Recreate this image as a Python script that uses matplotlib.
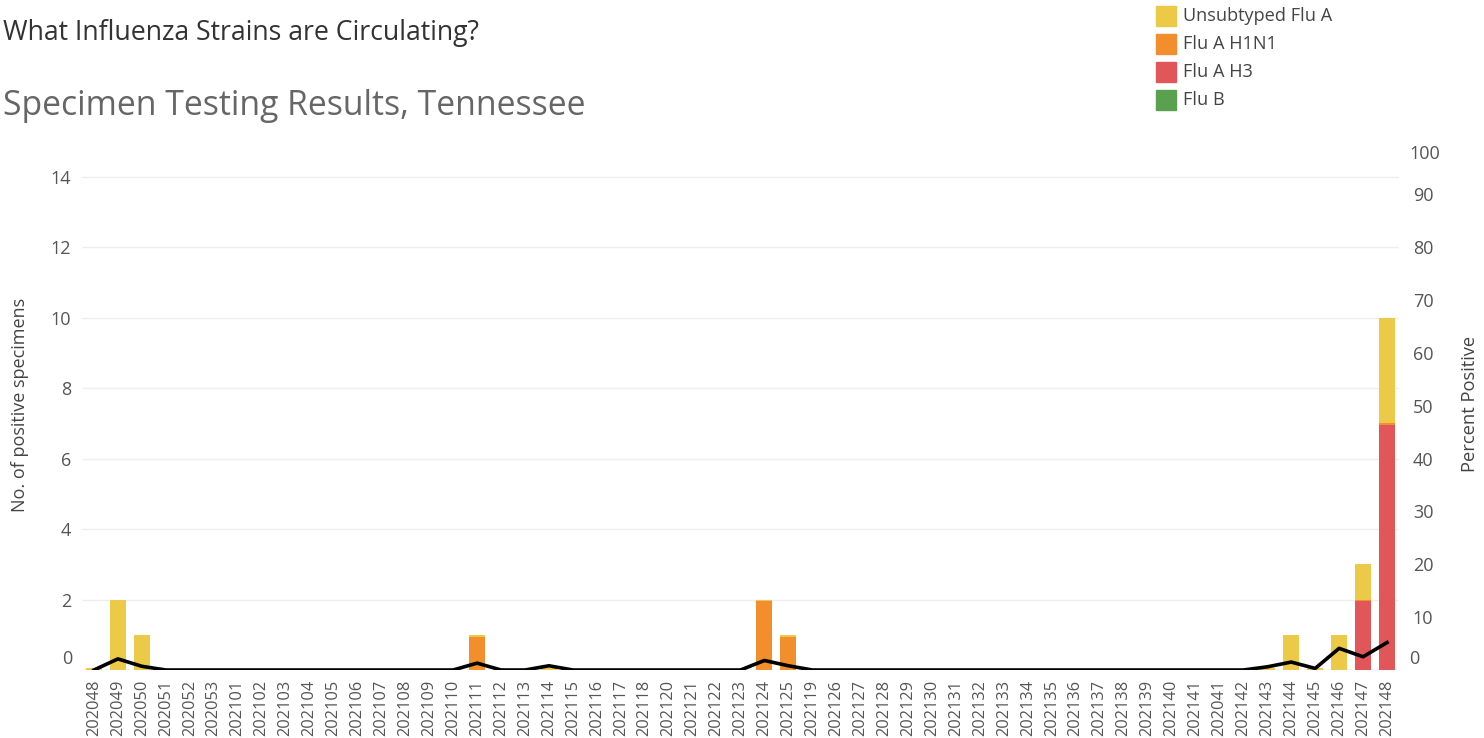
import matplotlib
matplotlib.use("Agg")
import matplotlib.pyplot as plt
import numpy as np

plt.rcParams['font.family'] = ['Open Sans', 'DejaVu Sans']

weeks = ["202048", "202049", "202050", "202051", "202052", "202053",
         "202101", "202102", "202103", "202104", "202105", "202106", "202107",
         "202108", "202109", "202110", "202111", "202112", "202113", "202114",
         "202115", "202116", "202117", "202118", "202120", "202121", "202122",
         "202123", "202124", "202125", "202119", "202126", "202127", "202128",
         "202129", "202130", "202131", "202132", "202133", "202134", "202135",
         "202136", "202137", "202138", "202139", "202140", "202141", "202041",
         "202142", "202143", "202144", "202145", "202146", "202147", "202148"]

flu_b = [0] * 55

flu_a_h3 = [0, 0, 0, 0, 0, 0,
            0, 0, 0, 0, 0, 0, 0,
            0, 0, 0, 0, 0, 0, 0,
            0, 0, 0, 0, 0, 0, 0,
            0, 0, 0, 0, 0, 0, 0,
            0, 0, 0, 0, 0, 0, 0,
            0, 0, 0, 0, 0, 0, 0,
            0, 0, 0, 0, 0, 1.95, 6.95]

flu_a_h1n1 = [0, 0, 0, 0, 0, 0,
              0, 0, 0, 0, 0, 0, 0,
              0, 0, 0, 0.95, 0, 0, 0,
              0, 0, 0, 0, 0, 0, 0,
              0, 1.95, 0.95, 0, 0, 0, 0,
              0, 0, 0, 0, 0, 0, 0,
              0, 0, 0, 0, 0, 0, 0,
              0, 0, 0, 0, 0, 0.05, 0.05]

unsubtyped = [0.05, 2, 1, 0, 0, 0,
              0, 0, 0, 0, 0, 0, 0,
              0, 0, 0, 0.05, 0, 0, 0.05,
              0, 0, 0, 0, 0, 0, 0,
              0, 0.05, 0.05, 0, 0, 0, 0,
              0, 0, 0, 0, 0, 0, 0,
              0, 0, 0, 0, 0, 0, 0,
              0, 0.05, 1, 0.05, 1, 1, 3]

pct_positive = [0, 2.1, 0.7, 0, 0, 0,
                0, 0, 0, 0, 0, 0, 0,
                0, 0, 0, 1.3, 0, 0, 0.8,
                0, 0, 0, 0, 0, 0, 0,
                0, 1.8, 0.8, 0, 0, 0, 0,
                0, 0, 0, 0, 0, 0, 0,
                0, 0, 0, 0, 0, 0, 0,
                0, 0.6, 1.5, 0.3, 4.1, 2.5, 5.2]

series_names = ["Unsubtyped Flu A", "Flu A H1N1", "Flu A H3", "Flu B"]
colors = {"Unsubtyped Flu A": "#EDC948", "Flu A H1N1": "#F28E2B",
          "Flu A H3": "#E15759", "Flu B": "#59A14F"}

W, H = 1484, 738
fig = plt.figure(figsize=(W / 100, H / 100), dpi=100)
ax_l, ax_r, ax_t, ax_b = 82, 1399, 141.5, 670
ax = fig.add_axes([ax_l / W, 1 - ax_b / H, (ax_r - ax_l) / W, (ax_b - ax_t) / H])

x = np.arange(len(weeks))
bw = 0.67
stack_order = [("Flu B", flu_b), ("Flu A H3", flu_a_h3),
               ("Flu A H1N1", flu_a_h1n1), ("Unsubtyped Flu A", unsubtyped)]
bottom = np.zeros(len(weeks))
for name, vals in stack_order:
    v = np.array(vals, dtype=float)
    ax.bar(x, v, bw, bottom=bottom, color=colors[name], linewidth=0, zorder=3)
    bottom += v

tick_col = '#555555'
ax.set_xlim(-0.5, len(weeks) - 0.5)
ax.set_ylim(0, 15)
ax.set_yticks([2, 4, 6, 8, 10, 12, 14])
ax.grid(axis='y', color='#eeeeee', linewidth=1, zorder=0)
ax.axhline(0, color='#bbbbbb', linewidth=1, linestyle=(0, (2, 2)), zorder=2)
for s in ax.spines.values():
    s.set_visible(False)
ax.tick_params(axis='y', length=0, pad=8, labelsize=13, labelcolor=tick_col)
ax.set_xticks(x)
ax.set_xticklabels(weeks, rotation=90)
ax.tick_params(axis='x', length=0, pad=7, labelsize=11.8, labelcolor=tick_col)
fig.text(20 / W, 1 - 405 / H, "No. of positive specimens", rotation=90, ha='center', va='center',
         fontsize=13, color='#444444')
fig.text(72 / W, 1 - 659 / H, "0", ha='right', va='center', fontsize=13, color=tick_col)

ax2 = ax.twinx()
ax2.set_position(ax.get_position())
ax2.plot(x, pct_positive, color='black', linewidth=2.6, zorder=5)
ax2.set_ylim(0, 100)
ax2.set_yticks([10, 20, 30, 40, 50, 60, 70, 80, 90])
ax2.tick_params(axis='y', length=0, pad=10, labelsize=13, labelcolor=tick_col)
for s in ax2.spines.values():
    s.set_visible(False)
fig.text(1409 / W, 1 - 154 / H, "100", ha='left', va='center', fontsize=13, color=tick_col)
fig.text(1409 / W, 1 - 659 / H, "0", ha='left', va='center', fontsize=13, color=tick_col)
fig.text(1470 / W, 1 - 404 / H, "Percent Positive", rotation=90, ha='center', va='center',
         fontsize=13.2, color='#444444')

fig.text(3 / W, 1 - 33 / H, "What Influenza Strains are Circulating?", ha='left', va='center',
         fontsize=19.2, color='#333333')
fig.text(3 / W, 1 - 106 / H, "Specimen Testing Results, Tennessee", ha='left', va='center',
         fontsize=24.3, color='#666666')

# legend
for i, name in enumerate(series_names):
    yc = 16 + 28 * i
    fig.patches.append(plt.Rectangle((1156 / W, 1 - (yc + 10) / H), 20 / W, 20 / H,
                                     transform=fig.transFigure, color=colors[name]))
    fig.text(1183 / W, 1 - yc / H, name, ha='left', va='center', fontsize=13.1, color='#444444')

fig.savefig("out.png", dpi=100)
